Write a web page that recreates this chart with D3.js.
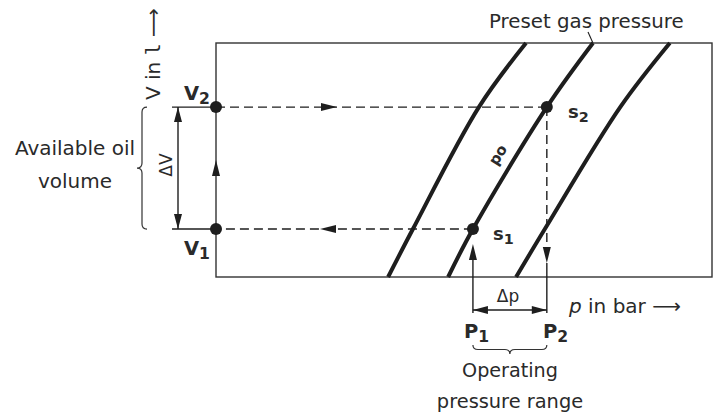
<!DOCTYPE html>
<html><head><meta charset="utf-8">
<script src="https://cdn.jsdelivr.net/npm/d3@7"></script>
<style>
body{margin:0;background:#fff}
svg{display:block}
text{font-family:"DejaVu Sans",sans-serif;fill:#2a2a2a}
</style>
</head><body>
<svg id="c" width="717" height="416"></svg>
<script>
// ---- data (arbitrary units: p in bar on x, V in l on y) ----
const curveV = [0, 2.05, 7.26, 10];
const curve1P = [3.47, 3.97, 5.30, 6.25];
const curve2P = [4.68, 5.18, 6.67, 7.60];
const curve3P = [6.05, 6.63, 8.15, 9.15];
const pDomain = [0, 10];
const vDomain = [0, 10];
const V1 = 2.05, V2 = 7.26;
const P1 = 5.18, P2 = 6.67;

const svg = d3.select("#c");
const x = d3.scaleLinear().domain(pDomain).range([216, 712]);
const y = d3.scaleLinear().domain(vDomain).range([277, 43]);
const ink = "#1e1e1e";

// frame
svg.append("rect").attr("x", x(0)).attr("y", y(10)).attr("width", x(10)-x(0)).attr("height", y(0)-y(10))
  .attr("fill", "none").attr("stroke", "#333").attr("stroke-width", 1.4);

// curves
const line = d3.line().x(d => x(d[0])).y(d => y(d[1])).curve(d3.curveCatmullRom.alpha(0.5));
[curve1P, curve2P, curve3P].forEach(ps => {
  svg.append("path").attr("d", line(ps.map((p, i) => [p, curveV[i]])))
    .attr("fill", "none").attr("stroke", ink).attr("stroke-width", 4);
});

function seg(x1, y1, x2, y2, dashed) {
  const l = svg.append("line").attr("x1", x1).attr("y1", y1).attr("x2", x2).attr("y2", y2)
    .attr("stroke", ink).attr("stroke-width", 1.4);
  if (dashed) l.attr("stroke-dasharray", "9,5");
  return l;
}
function arrow(tx, ty, dir, L = 16, w = 4) {
  let pts;
  if (dir === "right") pts = [[tx, ty], [tx-L, ty-w], [tx-L, ty+w]];
  if (dir === "left") pts = [[tx, ty], [tx+L, ty-w], [tx+L, ty+w]];
  if (dir === "up") pts = [[tx, ty], [tx-w, ty+L], [tx+w, ty+L]];
  if (dir === "down") pts = [[tx, ty], [tx-w, ty-L], [tx+w, ty-L]];
  svg.append("polygon").attr("points", pts.map(p => p.join(",")).join(" ")).attr("fill", ink);
}

// dashed paths
seg(x(0), y(V2), x(P2), y(V2), true);
arrow(337, y(V2), "right");
seg(x(P1), y(V1), x(0), y(V1), true);
arrow(320, y(V1), "left");
arrow(x(0), 160, "up");

// P2 vertical
seg(x(P2), y(V2), x(P2), 247, true);
arrow(x(P2), 263, "down");
seg(x(P2), 263, x(P2), 313);
// P1 vertical
seg(x(P1), 313, x(P1), 250);
arrow(x(P1), 244, "up");

// delta p dimension
seg(x(P1), 310, x(P2), 310);
arrow(x(P1), 310, "left", 15, 4);
arrow(x(P2), 310, "right", 15, 4);

// delta V dimension
seg(172, y(V2), x(0), y(V2));
seg(172, y(V1), x(0), y(V1));
seg(178, y(V2), 178, y(V1));
arrow(178, y(V2), "up", 15, 4);
arrow(178, y(V1), "down", 15, 4);

// points
[[0, V2], [0, V1], [P2, V2], [P1, V1]].forEach(d => {
  svg.append("circle").attr("cx", x(d[0])).attr("cy", y(d[1])).attr("r", 6).attr("fill", ink);
});

// braces
function hBrace(x1, x2, y0, d) {
  const xm = (x1 + x2) / 2, ym = y0 + d / 2, s = 5;
  return `M${x1},${y0} Q${x1},${ym} ${x1+s},${ym} L${xm-s},${ym} Q${xm},${ym} ${xm},${y0+d} Q${xm},${ym} ${xm+s},${ym} L${x2-s},${ym} Q${x2},${ym} ${x2},${y0}`;
}
function vBrace(y1, y2, x0, d) {
  const ym = (y1 + y2) / 2, xm = x0 - d / 2, s = 5;
  return `M${x0},${y1} Q${xm},${y1} ${xm},${y1+s} L${xm},${ym-s} Q${xm},${ym} ${x0-d},${ym} Q${xm},${ym} ${xm},${ym+s} L${xm},${y2-s} Q${xm},${y2} ${x0},${y2}`;
}
svg.append("path").attr("d", hBrace(x(P1), x(P2), 345, 9)).attr("fill", "none").attr("stroke", "#333").attr("stroke-width", 1.2);
svg.append("path").attr("d", vBrace(y(V2), y(V1), 147, 10)).attr("fill", "none").attr("stroke", "#333").attr("stroke-width", 1.2);

// leader for preset gas pressure
seg(588, 32, x(curve2P[3]), y(10)).attr("stroke-width", 1.1);

// ---- text ----
function txt(xp, yp, s, size, anchor = "start", weight = 400) {
  return svg.append("text").attr("x", xp).attr("y", yp).attr("font-size", size)
    .attr("text-anchor", anchor).attr("font-weight", weight).text(s);
}
function sub(xp, yp, main, subs, size, anchor = "start") {
  const t = svg.append("text").attr("x", xp).attr("y", yp).attr("font-size", size)
    .attr("font-weight", 700).attr("text-anchor", anchor);
  t.append("tspan").text(main);
  t.append("tspan").attr("font-size", size * 0.8).attr("dy", 4).text(subs);
  return t;
}

txt(489, 28, "Preset gas pressure", 19.8);
txt(75, 155, "Available oil", 20, "middle");
txt(75, 188, "volume", 20, "middle");
txt(510, 377, "Operating", 19.2, "middle");
txt(510, 408, "pressure range", 19.4, "middle");
txt(508, 302, "\u0394p", 17, "middle");

const pb = svg.append("text").attr("x", 569).attr("y", 313).attr("font-size", 20);
pb.append("tspan").attr("font-style", "italic").text("p");
pb.append("tspan").text(" in bar ");
pb.append("tspan").text("\u27F6");

const vl = svg.append("text").attr("transform", "translate(160,100) rotate(-90)").attr("font-size", 20);
vl.append("tspan").text("V in ");
vl.append("tspan").attr("font-family", "DejaVu Sans Mono").text("l");
vl.append("tspan").text(" \u27F6");
svg.append("text").attr("transform", "translate(172,165) rotate(-90)").attr("font-size", 17)
  .attr("text-anchor", "middle").text("\u0394V");
svg.append("text").attr("transform", "translate(498,155) rotate(-58)").attr("font-size", 15)
  .attr("font-weight", 700).attr("text-anchor", "middle").attr("dy", 5).text("po");

sub(184, 100, "V", "2", 19.5);
sub(184, 255, "V", "1", 19.5);
sub(464, 338, "P", "1", 19.5);
sub(543, 338, "P", "2", 19.5);
sub(568, 118, "s", "2", 18);
sub(493, 240, "s", "1", 18);
</script>
</body></html>
